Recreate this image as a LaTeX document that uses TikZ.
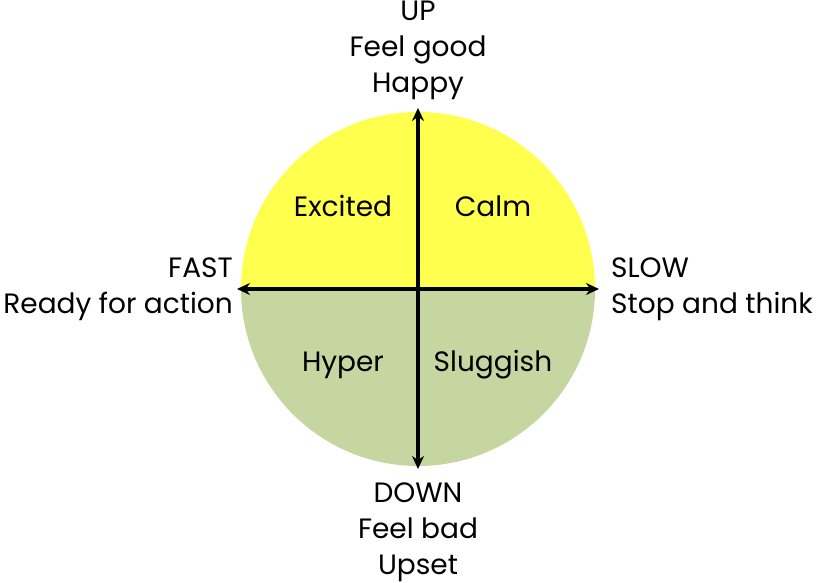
\documentclass[tikz,border=0pt]{standalone}
\usepackage{fontspec}
\setmainfont{Poppins}
\usetikzlibrary{arrows.meta}
\definecolor{moodyellow}{RGB}{255,255,77}
\definecolor{moodgreen}{RGB}{198,214,160}
\tikzset{
  axis/.style={line width=3.2pt,{Stealth[length=13pt,width=12pt]}-{Stealth[length=13pt,width=12pt]}},
  mood/.style={font=\fontsize{28}{36}\selectfont,inner sep=0pt},
}
\begin{document}
\begin{tikzpicture}[x=1pt,y=1pt,line join=round]
	\useasboundingbox (0,0) rectangle (819,583);
	\coordinate (o) at (418,294);
	\fill[moodyellow] (595,294) arc(0:180:177) -- cycle;
	\fill[moodgreen] (241,294) arc(180:360:177) -- cycle;
	\coordinate (top) at (418,475);
	\coordinate (bot) at (418,114);
	\coordinate (lft) at (237,294);
	\coordinate (rgt) at (599,294);
	\draw[axis] (lft)--(rgt);
	\draw[axis] (bot)--(top);
	\node[mood] (excited) at (343,377) {Excited};
	\node[mood] (calm) at (493,377) {Calm};
	\node[mood] (hyper) at (343,218) {Hyper};
	\node[mood] (sluggish) at (493,218) {Sluggish};
	\node[mood,align=center] (up) at (418,533) {UP\\Feel good\\Happy};
	\node[mood,align=center] (down) at (418,51) {DOWN\\Feel bad\\Upset};
	\node[mood,align=right,anchor=east] (fast) at (233,294) {FAST\\Ready for action};
	\node[mood,align=left,anchor=west] (slow) at (611,294) {SLOW\\Stop and think};
\end{tikzpicture}
\end{document}
